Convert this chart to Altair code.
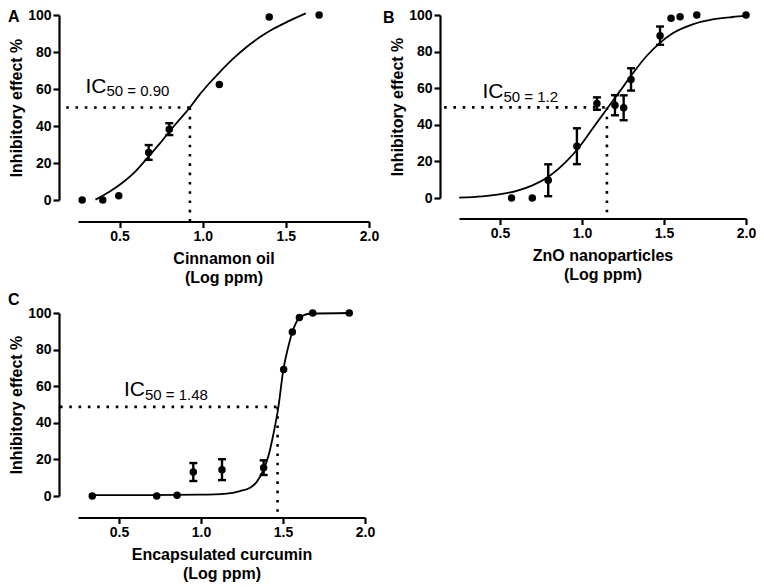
import altair as alt
import pandas as pd

FONT = "Liberation Sans"

# ---------------- Panel A : Cinnamon oil ----------------
a_x = [0.275, 0.399, 0.495, 0.675, 0.799, 1.100, 1.400, 1.700]
a_y = [0.0, 0.0, 2.3, 25.7, 38.3, 62.4, 98.9, 100.0]
a_err = [0, 0, 0, 4.0, 3.2, 0, 0, 0]
a_curve_x = [0.355, 0.439, 0.519, 0.599, 0.675, 0.739, 0.799, 0.859, 0.923,
             0.979, 1.040, 1.100, 1.180, 1.260, 1.340, 1.420, 1.520, 1.620]
a_curve_y = [0.2, 4.5, 9.5, 15.8, 23.6, 30.2, 36.9, 43.3, 50.0,
             56.7, 63.1, 68.9, 76.1, 82.4, 87.8, 92.3, 96.8, 100.9]
a_ic50 = {"x": 0.923, "y": 50.0, "start": 0.179}
a_label = {"x": 0.295, "y": 58.1, "main": "IC", "sub": "50 = 0.90"}

# ---------------- Panel B : ZnO nanoparticles ----------------
b_x = [0.570, 0.697, 0.794, 0.969, 1.091, 1.201, 1.254, 1.299, 1.476, 1.543, 1.598, 1.700, 2.0]
b_y = [0.0, 0.0, 9.7, 28.3, 51.6, 50.7, 49.3, 64.8, 88.7, 98.2, 99.1, 100.0, 100.0]
b_err = [0, 0, 8.7, 9.8, 3.4, 5.5, 6.8, 6.1, 5.0, 0, 0, 0, 0]
b_curve_x = [0.251, 0.393, 0.495, 0.597, 0.698, 0.800, 0.902, 0.983, 1.065, 1.146,
             1.228, 1.309, 1.390, 1.472, 1.553, 1.675, 1.797, 1.919, 2.0]
b_curve_y = [0.2, 0.9, 2.0, 3.8, 6.9, 11.9, 19.7, 27.9, 38.0, 48.0,
             58.0, 68.0, 77.2, 84.5, 90.0, 94.9, 97.6, 98.9, 99.5]
b_ic50 = {"x": 1.152, "y": 49.5, "start": 0.159}
b_label = {"x": 0.393, "y": 54.6, "main": "IC", "sub": "50 = 1.2"}

# ---------------- Panel C : Encapsulated curcumin ----------------
c_x = [0.337, 0.730, 0.854, 0.953, 1.128, 1.382, 1.504, 1.557, 1.600, 1.681, 1.904]
c_y = [0.0, 0.0, 0.4, 13.1, 14.4, 15.5, 69.1, 89.6, 97.6, 100.0, 100.0]
c_err = [0, 0, 0, 4.9, 5.7, 4.0, 0, 0, 0, 0, 0]
c_curve_x = [0.337, 0.689, 0.994, 1.157, 1.238, 1.299, 1.339, 1.382, 1.411, 1.441,
             1.472, 1.502, 1.533, 1.557, 1.600, 1.665, 1.909]
c_curve_y = [0.5, 0.5, 0.7, 1.3, 2.7, 4.5, 7.6, 14.5, 21.8, 33.6,
             48.7, 69.1, 81.8, 89.6, 97.3, 99.6, 100.0]
c_ic50 = {"x": 1.467, "y": 48.7, "start": 0.140}
c_label = {"x": 0.530, "y": 54.6, "main": "IC", "sub": "50 = 1.48"}

x_ticks = [0.5, 1.0, 1.5, 2.0]
y_ticks = [0, 20, 40, 60, 80, 100]
y_title = "Inhibitory effect %"


def panel(letter, px, py, perr, cx, cy, ic, lab, xtitle, width, height,
          xoff, letter_dx, letter_dy):
    xscale = alt.Scale(domain=[0.25, 2.0], nice=False, zero=False)
    yscale = alt.Scale(domain=[0, 100], nice=False, zero=False)
    xaxis = alt.Axis(values=x_ticks, format=".1f", title=xtitle, offset=xoff,
                     labelFlush=False, titlePadding=7, titleLineHeight=19)
    yaxis = alt.Axis(values=y_ticks, title=y_title, offset=19, labelFlush=False,
                     titlePadding=3)

    def X(f):
        return alt.X(f, type="quantitative", scale=xscale, axis=xaxis)

    def Y(f):
        return alt.Y(f, type="quantitative", scale=yscale, axis=yaxis)

    pts = pd.DataFrame({"x": px, "y": py, "e": perr})
    pts["lo"] = pts["y"] - pts["e"]
    pts["hi"] = pts["y"] + pts["e"]
    errs = pts[pts["e"] > 0]
    caps = pd.concat([errs[["x", "lo"]].rename(columns={"lo": "y"}),
                      errs[["x", "hi"]].rename(columns={"hi": "y"})])
    curve = pd.DataFrame({"x": cx, "y": cy})
    icdf = pd.DataFrame([ic])
    labdf = pd.DataFrame([lab])
    letdf = pd.DataFrame({"t": [letter]})

    line = alt.Chart(curve).mark_line(color="black", strokeWidth=1.8,
                                      interpolate="monotone").encode(x=X("x"), y=Y("y"))
    dots = alt.Chart(pts).mark_circle(size=56, color="black", opacity=1).encode(
        x=X("x"), y=Y("y"))
    bars = alt.Chart(errs).mark_rule(color="black", strokeWidth=2.4).encode(
        x=X("x"), y=Y("lo"), y2="hi")
    capm = alt.Chart(caps).mark_tick(color="black", orient="horizontal", size=8,
                                     thickness=2.4, opacity=1).encode(x=X("x"), y=Y("y"))
    hline = alt.Chart(icdf).mark_rule(color="black", strokeWidth=2.6,
                                      strokeDash=[2.6, 6.7]).encode(
        x=X("start"), x2="x", y=Y("y"))
    vline = alt.Chart(icdf).mark_rule(color="black", strokeWidth=2.6,
                                      strokeDash=[2.6, 6.7]).encode(
        x=X("x"), y=Y("y"), y2=alt.value(height + xoff))
    main = alt.Chart(labdf).mark_text(align="left", baseline="alphabetic", fontSize=21,
                                      font=FONT, color="black").encode(
        x=X("x"), y=Y("y"), text="main:N")
    sub = alt.Chart(labdf).mark_text(align="left", baseline="alphabetic", fontSize=15,
                                     font=FONT, color="black", dx=21, dy=3.5).encode(
        x=X("x"), y=Y("y"), text="sub:N")
    let = alt.Chart(letdf).mark_text(align="left", baseline="alphabetic", fontSize=16,
                                     font=FONT, fontWeight="bold", color="black").encode(
        x=alt.value(letter_dx), y=alt.value(letter_dy), text="t:N")
    return alt.layer(hline, vline, line, bars, capm, dots, main, sub, let).properties(
        width=width, height=height)


A = panel("A", a_x, a_y, a_err, a_curve_x, a_curve_y, a_ic50, a_label,
          ["Cinnamon oil", "(Log ppm)"], 291, 185, 21.5, -70, 7)
B = panel("B", b_x, b_y, b_err, b_curve_x, b_curve_y, b_ic50, b_label,
          ["ZnO nanoparticles", "(Log ppm)"], 287, 183, 20.5, -76, 8)
C = panel("C", c_x, c_y, c_err, c_curve_x, c_curve_y, c_ic50, c_label,
          ["Encapsulated curcumin", "(Log ppm)"], 287, 183, 21.5, -70, -8)

chart = alt.concat(A, B, C, columns=2, spacing={"row": 6, "column": 4}).properties(
    padding={"left": 0, "top": 0, "right": 0, "bottom": 0}
).configure_view(strokeWidth=0).configure_axis(
    grid=False, domainColor="black", domainWidth=2.2, tickColor="black", tickWidth=2.2,
    tickSize=6, labelFont=FONT, labelFontSize=14, labelFontWeight="bold",
    labelColor="black", labelPadding=2, titleFont=FONT, titleFontSize=16,
    titleFontWeight="bold", titleColor="black"
)

chart.save("out.html", embed_options={"renderer": "svg", "actions": False})
